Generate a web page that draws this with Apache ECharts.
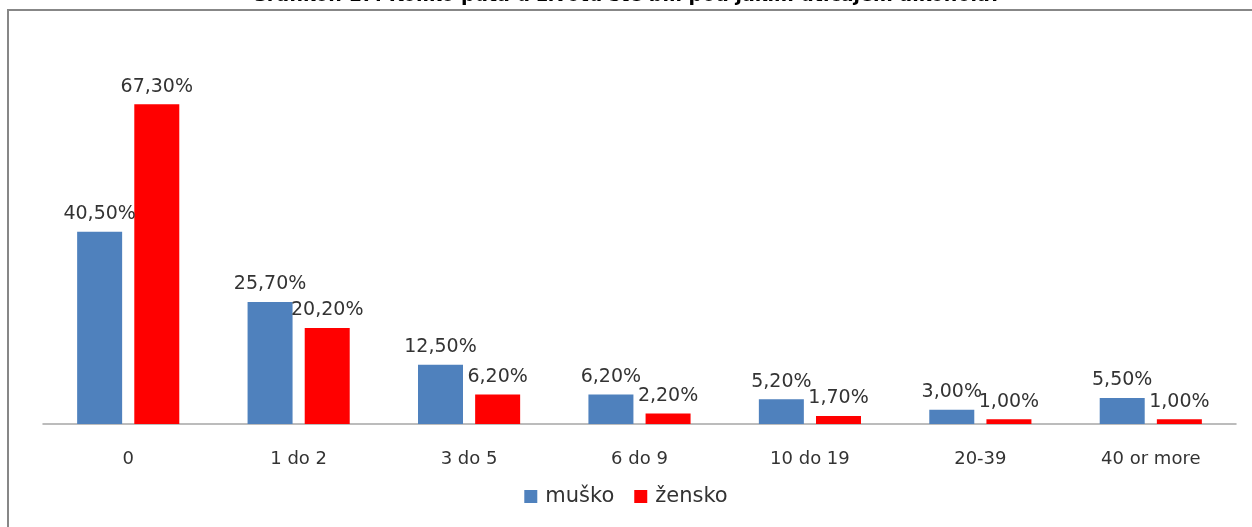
<!DOCTYPE html>
<html>
<head>
<meta charset="utf-8">
<script src="https://cdn.jsdelivr.net/npm/echarts@6/dist/echarts.min.js"></script>
<style>
html,body{margin:0;padding:0;background:#fff;}
#chart{width:1252px;height:527px;}
</style>
</head>
<body>
<div id="chart"></div>
<script>
const titleText = 'Grafikon 17. Koliko puta u životu ste bili pod jakim uticajem alkohola?';
const categories = ['0', '1 do 2', '3 do 5', '6 do 9', '10 do 19', '20-39', '40 or more'];
const seriesNames = ['muško', 'žensko'];
const musko = [40.5, 25.7, 12.5, 6.2, 5.2, 3.0, 5.5];
const zensko = [67.3, 20.2, 6.2, 2.2, 1.7, 1.0, 1.0];

const fmt = p => p.value.toFixed(2).replace('.', ',') + '%';
const labelCfg = {
  show: true, position: 'top', distance: 8,
  formatter: fmt, color: '#333', fontFamily: 'DejaVu Sans', fontSize: 19
};

const chart = echarts.init(document.getElementById('chart'), null, {renderer: 'canvas'});
chart.setOption({
  animation: false,
  backgroundColor: '#fff',
  title: {
    text: titleText, left: 'center', top: -13, padding: 0,
    textStyle: {fontFamily: 'DejaVu Sans', fontWeight: 'bold', fontSize: 19, color: '#000', lineHeight: 19}
  },
  graphic: [{
    type: 'rect', shape: {x: 8, y: 10, width: 1300, height: 600},
    style: {fill: 'none', stroke: '#878787', lineWidth: 2}, silent: true, z: -1
  }],
  legend: {
    bottom: 20, left: 'center', itemWidth: 13, itemHeight: 13, itemGap: 20,
    icon: 'rect', padding: 0,
    textStyle: {fontFamily: 'DejaVu Sans', fontSize: 21, color: '#333', padding: [0, 0, 0, 3]},
    data: seriesNames
  },
  grid: {left: 43, right: 16, top: 44, bottom: 103},
  xAxis: {
    type: 'category', data: categories,
    axisLine: {lineStyle: {color: '#a6a6a6', width: 1.5}},
    axisTick: {show: false},
    axisLabel: {fontFamily: 'DejaVu Sans', fontSize: 18, color: '#333', margin: 26}
  },
  yAxis: {
    type: 'value', min: 0, max: 80, show: false,
    splitLine: {show: false}
  },
  series: [
    {name: seriesNames[0], type: 'bar', data: musko, barWidth: 45, barGap: '27%',
     itemStyle: {color: '#4F81BD'}, label: labelCfg},
    {name: seriesNames[1], type: 'bar', data: zensko, barWidth: 45,
     itemStyle: {color: '#FF0000'}, label: labelCfg}
  ]
});
</script>
</body>
</html>
